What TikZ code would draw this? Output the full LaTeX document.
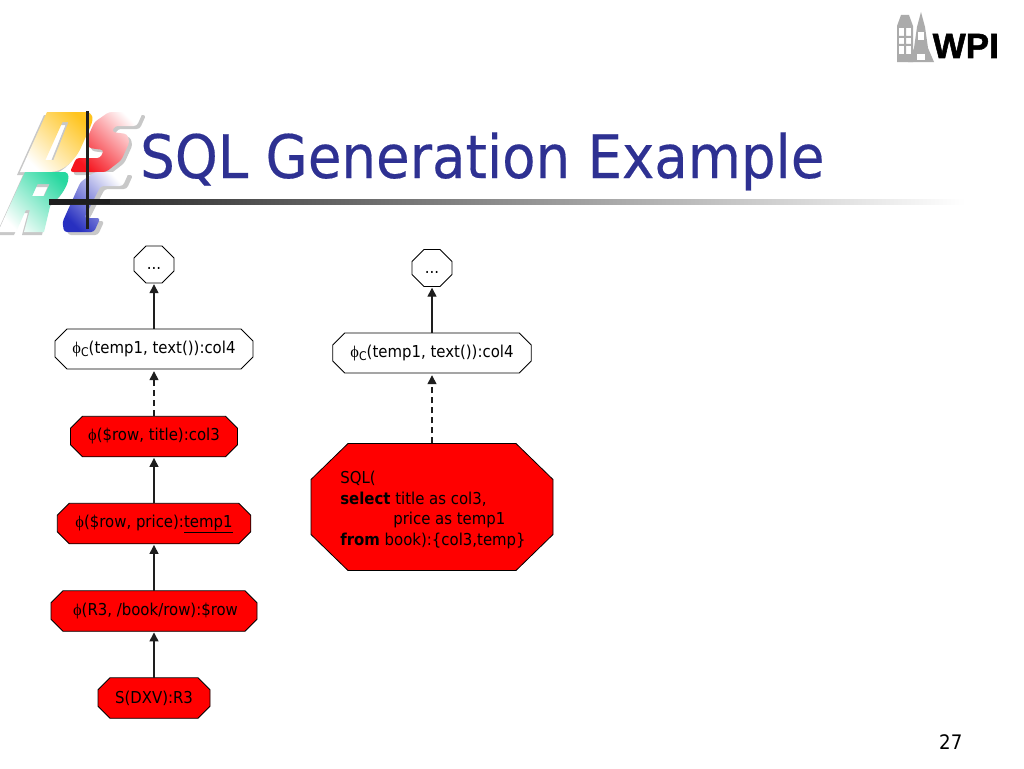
\documentclass[tikz,border=0pt]{standalone}
\usepackage{fontspec}
\usetikzlibrary{arrows.meta,shadings}
\setmainfont{DejaVu Sans}
\newfontfamily\tah[FakeStretch=0.91]{DejaVu Sans}
\newfontfamily\titlefont[FakeStretch=0.91,FakeBold=0.3]{DejaVu Sans}
\newfontfamily\phifont{Liberation Serif}
\newfontfamily\wpifont[BoldFeatures={FakeBold=1.5}]{Liberation Sans}
\definecolor{titleblue}{HTML}{2E3192}
\definecolor{linegrey}{HTML}{1E1E1E}
\definecolor{bldgrey}{HTML}{ABABAB}
\definecolor{logoshadow}{HTML}{C8C8C8}
\definecolor{logoD}{HTML}{FFC41E}
\definecolor{logoDm}{HTML}{FFEBC0}
\definecolor{logoS}{HTML}{F5141E}
\definecolor{logoSm}{HTML}{FFA0A0}
\definecolor{logoR}{HTML}{28D8A0}
\definecolor{logoRm}{HTML}{B0F0DC}
\definecolor{logoC}{HTML}{2830C0}
\definecolor{logoCm}{HTML}{B8C0EC}
\newcommand{\lfont}{\tah\fontsize{16.4}{20.5}\selectfont}
\newcommand{\sqlphi}{{\phifont ϕ}}
\newcommand{\sqlphic}{{\phifont ϕ}\raisebox{-3pt}{\fontsize{12}{12}\selectfont C}}
\newcommand{\pathD}{(0,0)--(38,0) .. controls (46,0) and (50,6) .. (50,15) --(50,35) .. controls (50,50) and (42,60) .. (30,60)--(0,60)--cycle (20,10)--(26,10)--(28,48)--(20,48)--cycle}
\newcommand{\pathS}{[rounded corners=3pt](12,0)--(46,0)--(46,14)--(24,14)--(24,20)--(40,22)--(46,30)--(46,48)--(36,60)--(0,60)--(0,46)--(24,46)--(24,38)--(8,36)--(2,28)--(2,10)--cycle}
\newcommand{\pathR}{(0,0)--(40,0) .. controls (50,2) and (50,24) .. (40,32)--(46,60)--(26,60)--(22,38)--(18,38)--(18,60)--(0,60)--cycle (18,12)--(30,12)--(30,24)--(18,24)--cycle}
\newcommand{\pathC}{[rounded corners=3pt](10,0)--(44,0)--(44,14)--(22,14)--(20,46)--(36,46)--(36,60)--(6,60)--(0,50)--(0,10)--cycle}
% \octa{name}{cx}{cy}{width}{height}{cut}{fill}{text}
\newcommand{\octa}[8]{%
  \filldraw[octaline,fill=#7,shift={(#2,#3)}]
    ({-(#4)/2+#6},{-(#5)/2}) -- ({(#4)/2-#6},{-(#5)/2}) -- ({(#4)/2},{-(#5)/2+#6}) -- ({(#4)/2},{(#5)/2-#6})
    -- ({(#4)/2-#6},{(#5)/2}) -- ({-(#4)/2+#6},{(#5)/2}) -- ({-(#4)/2},{(#5)/2-#6}) -- ({-(#4)/2},{-(#5)/2+#6}) -- cycle;
  \node[octatext,minimum width=#4,minimum height=#5] (#1) at (#2,#3) {\raisebox{-3pt}{\vphantom{(}#8}};}
\tikzset{
  octaline/.style={draw=black,line width=0.8pt},
  octatext/.style={rectangle,inner sep=0pt,font=\lfont,text=black},
  conn/.style={draw=linegrey,line width=1.4pt,-{Triangle[length=9pt,width=9pt]},shorten >=1pt},
  dashconn/.style={conn,dash pattern=on 6pt off 4pt,shorten >=2pt},
  title/.style={font=\titlefont\fontsize{60}{60}\selectfont,text=titleblue,inner sep=0pt,anchor=base west},
  logograd/.style n args={3}{shading=axis,top color=#1,middle color=#2,bottom color=#3,shading angle=-45,even odd rule}
}
\begin{document}
\begin{tikzpicture}[x=1pt,y=-1pt]
\path[fill=white,use as bounding box] (0,0) rectangle (1024,768);
% DSRC logo shadows
\fill[logoshadow,even odd rule,shift={(100,115)},xslant=0.45] \pathS;
\fill[logoshadow,even odd rule,shift={(44,115)},xslant=0.45] \pathD;
\fill[logoshadow,even odd rule,shift={(23,175)},xslant=0.45] \pathR;
\fill[logoshadow,even odd rule,shift={(89,175)},xslant=0.45] \pathC;
% DSRC logo letters
\shade[logograd={white}{logoSm}{logoS},shift={(97,112)},xslant=0.45] \pathS;
\shade[logograd={logoD}{logoDm}{white},shift={(47,112)},xslant=0.45] \pathD;
\shade[logograd={logoR}{logoRm}{white},shift={(25,172)},xslant=0.45] \pathR;
\shade[logograd={white}{logoCm}{logoC},shift={(85,172)},xslant=0.45] \pathC;
% title rules
\shade[left color=linegrey,right color=white] (49,199) rectangle (965,204);
\fill[linegrey] (49,199) rectangle (110,204);
\fill[linegrey] (85.5,110.5) rectangle (88.5,228.5);
% title
\node[title] (ttl) at (140,178) {SQL Generation Example};
% WPI logo
\fill[bldgrey] (897,62) -- (897,26) -- (901,15) -- (909,15) -- (913,26) -- (913,62) -- cycle;
\fill[white] (899,28) rectangle (911,54);
\fill[bldgrey] (899,36) rectangle (911,38) (904,28) rectangle (906,54) (899,44) rectangle (911,46);
\fill[bldgrey] (908,62) -- (914,48) -- (917,27) -- (921,12) -- (925,27) -- (928,48) -- (934,62) -- cycle;
\fill[white] (918,32) rectangle (924,40);
\fill[white] (917,54) rectangle (925,60);
\node[font=\wpifont\bfseries\fontsize{35}{35}\selectfont,inner sep=0pt,anchor=base west,text=black] (wpi) at (932.5,58) {WPI};
% left column
\octa{la}{154}{264.5}{40}{37}{12}{white}{...}
\octa{lb}{154}{349}{198}{40}{12}{white}{\sqlphic(temp1, text()):col4}
\octa{lc}{154}{436.5}{167}{40.5}{12}{red}{\sqlphi(\$row, title):col3}
\octa{ld}{154}{523.5}{193.5}{40.5}{12}{red}{\sqlphi(\$row, price):\underline{temp1}}
\octa{le}{154}{611}{206}{40.5}{12}{red}{\hspace{3pt}\sqlphi(R3, /book/row):\$row}
\octa{lf}{154}{698}{112}{40.5}{12}{red}{S(DXV):R3}
% right column
\octa{ra}{432}{268}{40}{37}{12}{white}{...}
\octa{rb}{432}{353}{198.5}{40}{12}{white}{\sqlphic(temp1, text()):col4}
\filldraw[octaline,fill=red] (348,443.5) -- (516,443.5) -- (553,479.5) -- (553,534.5) -- (516,570.5) -- (348,570.5) -- (311,534.5) -- (311,479.5) -- cycle;
\node[octatext,minimum width=242pt,minimum height=127pt] (rc) at (432,507) {};
\node[octatext,align=left] (rct) at (433,510)
 {SQL(\\\textbf{select} title as col3,\\\hspace{53pt}price as temp1\\\textbf{from} book):\{col3,temp\}};
% connectors
\draw[conn] (lf.north) -- (le.south);
\draw[conn] (le.north) -- (ld.south);
\draw[conn] (ld.north) -- (lc.south);
\draw[dashconn] (lc.north) -- (lb.south);
\draw[conn] (lb.north) -- (la.south);
\draw[dashconn] (rc.north) -- (rb.south);
\draw[conn] (rb.north) -- (ra.south);
% page number
\node[font=\tah\fontsize{20}{20}\selectfont,text=black,inner sep=0pt,anchor=base west] (pg) at (939,749) {27};
\end{tikzpicture}
\end{document}
